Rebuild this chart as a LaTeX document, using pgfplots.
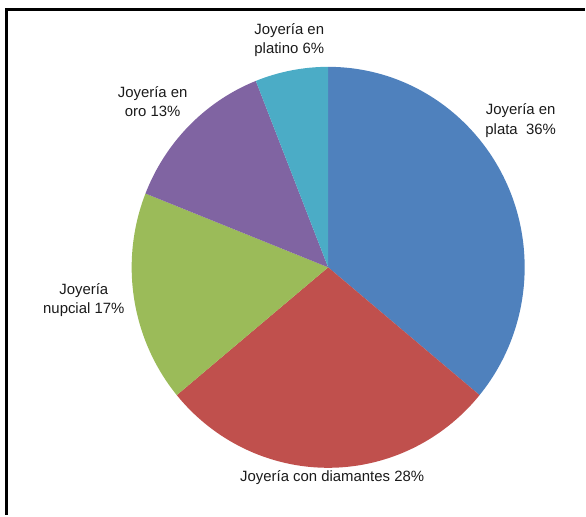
\documentclass[border=0pt]{standalone}
\usepackage{fontspec}
\setmainfont{Liberation Sans}
\usepackage{pgfplots}
\usepackage{pgfplotstable}
\pgfplotsset{compat=1.18}
\definecolor{slice0}{HTML}{4F81BD}
\definecolor{slice1}{HTML}{C0504D}
\definecolor{slice2}{HTML}{9BBB59}
\definecolor{slice3}{HTML}{8064A2}
\definecolor{slice4}{HTML}{4BACC6}
\definecolor{txt}{HTML}{1A1A1A}
\pgfplotstableread{
label value
plata 36
diamantes 28
nupcial 17
oro 13
platino 6
}\piedata
\begin{document}
\begin{tikzpicture}
\begin{axis}[
  width=586bp, height=516bp, scale only axis,
  hide axis, clip=false,
  xmin=0, xmax=586, ymin=0, ymax=516, y dir=reverse,
]
\path (axis cs:0,0) rectangle (axis cs:586,516);
\def\cx{329}\def\cy{268}\def\rx{197}\def\ry{201}
\xdef\startang{90}
\pgfplotstableforeachcolumnelement{value}\of\piedata\as\v{%
  \pgfmathsetmacro\dl{-3.6*\v}%
  \edef\cmd{\noexpand\fill[slice\pgfplotstablerow] (axis cs:\cx,\cy) -- ++({\rx*cos(\startang)*1bp},{\ry*sin(\startang)*1bp}) arc[start angle=\startang, delta angle=\dl, x radius=\rx bp, y radius=\ry bp] -- cycle;}%
  \cmd
  \pgfmathparse{\startang+\dl}%
  \xdef\startang{\pgfmathresult}%
}
\begin{scope}[every node/.style={align=center, text=txt, font=\fontsize{15}{19.5}\selectfont, inner sep=0pt}]
\node at (axis cs:290,40) {Joyería en\\platino 6\%};
\node at (axis cs:153,102) {Joyería en\\oro 13\%};
\node at (axis cs:522,121) {Joyería en\\plata~~36\%};
\node at (axis cs:84,301) {Joyería\\nupcial 17\%};
\node at (axis cs:333,479) {Joyería con diamantes 28\%};
\end{scope}
\draw[line width=3bp, line cap=butt] (axis cs:6.5,516) -- (axis cs:6.5,9.5) -- (axis cs:586,9.5);
\end{axis}
\end{tikzpicture}
\end{document}
